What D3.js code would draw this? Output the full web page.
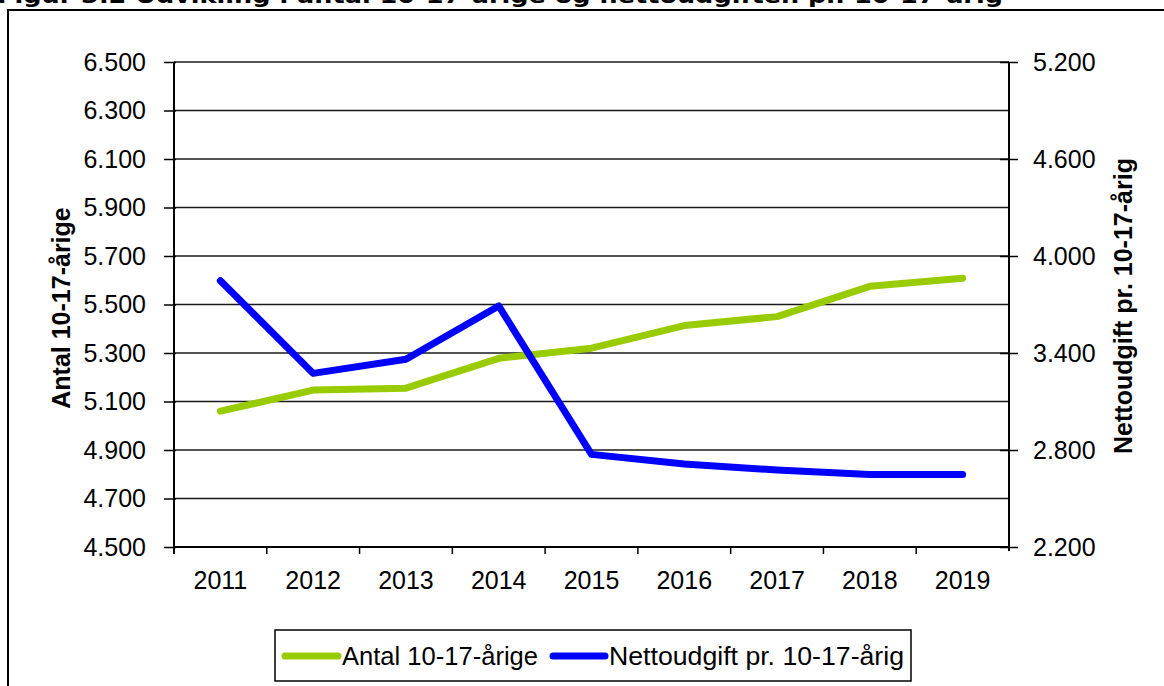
<!DOCTYPE html>
<html><head><meta charset="utf-8">
<script src="https://cdn.jsdelivr.net/npm/d3@7"></script>
<style>body{margin:0;background:#fff}svg{display:block}</style>
</head><body>
<svg id="c" width="1164" height="686"></svg>
<script>
const years = ["2011","2012","2013","2014","2015","2016","2017","2018","2019"];
const antal = [5060, 5147, 5155, 5278, 5320, 5413, 5450, 5575, 5608];
const netto = [3847, 3274, 3361, 3691, 2773, 2713, 2676, 2649, 2649];
const leftTicks = [4500, 4700, 4900, 5100, 5300, 5500, 5700, 5900, 6100, 6300, 6500];
const rightTicks = [2200, 2800, 3400, 4000, 4600, 5200];
const seriesNames = ["Antal 10-17-årige", "Nettoudgift pr. 10-17-årig"];
const titleText = "Figur 3.2 Udvikling i antal 10-17-årige og nettoudgiften pr. 10-17-årig";

const svg = d3.select("#c");
const font = "'Liberation Sans', Arial, sans-serif";
const L = 174, R = 1009, T = 62, B = 547;
const x = d3.scaleBand().domain(years).range([L, R]).padding(0);
const yL = d3.scaleLinear().domain([4500, 6500]).range([B, T]);
const yR = d3.scaleLinear().domain([2200, 5200]).range([B, T]);
const fmt = d3.formatLocale({decimal: ",", thousands: ".", grouping: [3], currency: ["", ""]}).format(",");

// title (cut off at top, as in the source)
svg.append("text").attr("x", -3).attr("y", 3).attr("font-family", "'DejaVu Sans', Verdana, sans-serif")
  .attr("font-weight", "bold").attr("font-size", 21).attr("textLength", 1006).attr("lengthAdjust", "spacingAndGlyphs")
  .text(titleText);

// outer frame
svg.append("rect").attr("x", 8).attr("y", 10).attr("width", 1170).attr("height", 700)
  .attr("fill", "none").attr("stroke", "#000").attr("stroke-width", 2);

// gridlines
svg.append("g").selectAll("line").data(leftTicks.slice(1)).join("line")
  .attr("x1", L).attr("x2", R).attr("y1", d => yL(d)).attr("y2", d => yL(d))
  .attr("stroke", "#1a1a1a").attr("stroke-width", 1.6);

// left axis
const gl = svg.append("g").attr("transform", `translate(${L},0)`)
  .call(d3.axisLeft(yL).tickValues(leftTicks).tickFormat(fmt).tickSize(10).tickPadding(18));
gl.select(".domain").remove();
gl.selectAll(".tick line").attr("stroke", "#000").attr("stroke-width", 1.5).attr("x2", -10).attr("x1", 2);
gl.selectAll("text").attr("font-family", font).attr("font-size", 25).attr("fill", "#000");

// right axis
const gr = svg.append("g").attr("transform", `translate(${R},0)`)
  .call(d3.axisRight(yR).tickValues(rightTicks).tickFormat(fmt).tickSize(9).tickPadding(15));
gr.select(".domain").remove();
gr.selectAll(".tick line").attr("stroke", "#000").attr("stroke-width", 1.5).attr("x1", -9);
gr.selectAll("text").attr("font-family", font).attr("font-size", 25).attr("fill", "#000");

// bottom ticks at band boundaries
const bounds = years.map(d => x(d));
svg.append("g").selectAll("line").data(bounds).join("line")
  .attr("x1", d => d).attr("x2", d => d).attr("y1", B).attr("y2", B + 7)
  .attr("stroke", "#000").attr("stroke-width", 1.5);
svg.append("g").selectAll("text").data(years).join("text")
  .attr("x", d => x(d) + x.bandwidth() / 2).attr("y", 589).attr("text-anchor", "middle")
  .attr("font-family", font).attr("font-size", 25).text(d => d);

// axis lines
svg.append("line").attr("x1", L).attr("x2", L).attr("y1", T).attr("y2", B + 7).attr("stroke", "#000").attr("stroke-width", 2);
svg.append("line").attr("x1", R).attr("x2", R).attr("y1", T).attr("y2", B + 4).attr("stroke", "#000").attr("stroke-width", 2);
svg.append("line").attr("x1", L).attr("x2", R).attr("y1", B).attr("y2", B).attr("stroke", "#000").attr("stroke-width", 2);

// axis titles
svg.append("text").attr("transform", `translate(70,308) rotate(-90)`).attr("text-anchor", "middle")
  .attr("font-family", font).attr("font-weight", "bold").attr("font-size", 25).text("Antal 10-17-årige");
svg.append("text").attr("transform", `translate(1132,306) rotate(-90)`).attr("text-anchor", "middle")
  .attr("font-family", font).attr("font-weight", "bold").attr("font-size", 25).text("Nettoudgift pr. 10-17-årig");

// lines
const cx = d => x(d) + x.bandwidth() / 2;
const lineL = d3.line().x((d, i) => cx(years[i])).y(d => yL(d));
const lineR = d3.line().x((d, i) => cx(years[i])).y(d => yR(d));
svg.append("path").attr("d", lineL(antal)).attr("fill", "none").attr("stroke", "#99CC00")
  .attr("stroke-width", 7).attr("stroke-linecap", "round").attr("stroke-linejoin", "round");
svg.append("path").attr("d", lineR(netto)).attr("fill", "none").attr("stroke", "#0000FF")
  .attr("stroke-width", 7).attr("stroke-linecap", "round").attr("stroke-linejoin", "round");

// legend
const lg = svg.append("g");
lg.append("rect").attr("x", 275).attr("y", 630).attr("width", 636).attr("height", 51)
  .attr("fill", "#fff").attr("stroke", "#000").attr("stroke-width", 1.5);
const items = [{name: seriesNames[0], color: "#99CC00", x1: 285, x2: 338, tx: 342, w: 196},
               {name: seriesNames[1], color: "#0000FF", x1: 553, x2: 605, tx: 609, w: 295}];
items.forEach(it => {
  lg.append("line").attr("x1", it.x1).attr("x2", it.x2).attr("y1", 656).attr("y2", 656)
    .attr("stroke", it.color).attr("stroke-width", 7).attr("stroke-linecap", "round");
  lg.append("text").attr("x", it.tx).attr("y", 665).attr("font-family", font).attr("font-size", 25)
    .attr("textLength", it.w).attr("lengthAdjust", "spacingAndGlyphs").text(it.name);
});
</script>
</body></html>
